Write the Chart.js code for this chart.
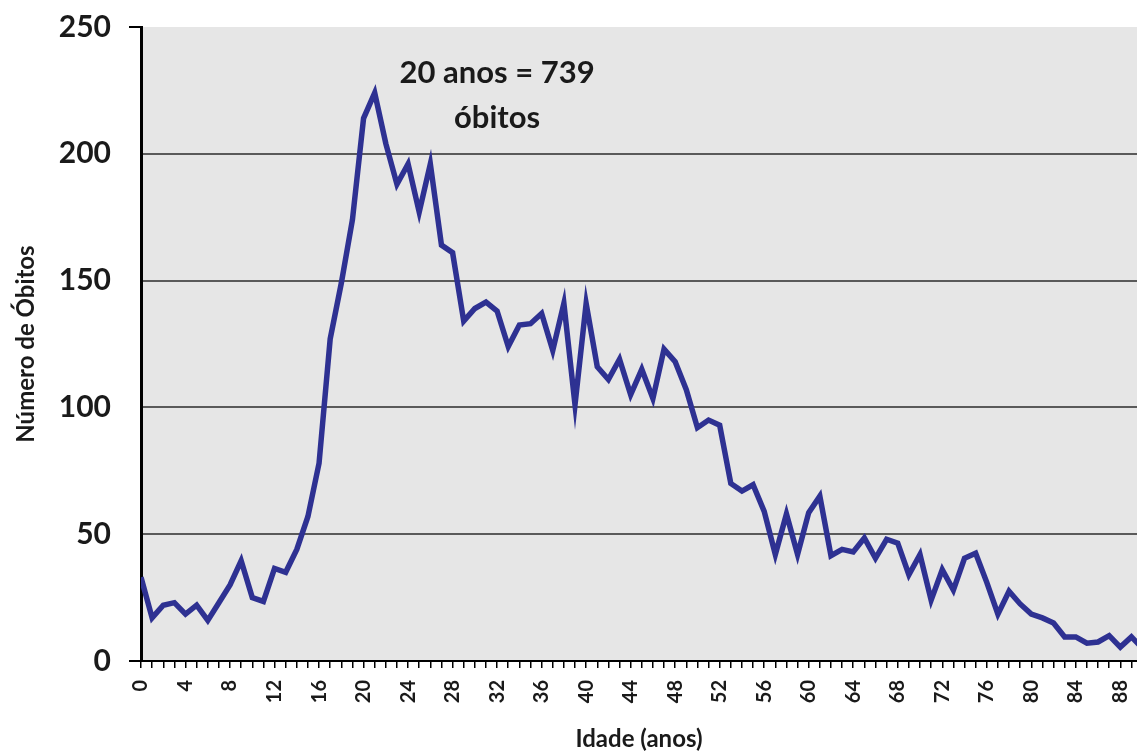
<!DOCTYPE html>
<html>
<head>
<meta charset="utf-8">
<script src="https://cdn.jsdelivr.net/npm/chart.js@4"></script>
<style>
  html, body { margin: 0; padding: 0; background: #fff; }
  #wrap { width: 1137px; height: 754px; }
</style>
</head>
<body>
<div id="wrap"><canvas id="myChart" width="1137" height="754"></canvas></div>
<script>
// ages 0..90 and deaths per age
let ages = [];
for (let a = 0; a <= 90; a++) ages.push(a);
let deaths = [
    33, 17, 22, 23, 18.5, 22, 16, 23, 30, 39.5,
    25, 23.5, 36.5, 35, 44, 57, 78, 127, 149, 174,
    214, 224, 204, 188, 196, 177, 196, 164, 161, 134,
    139, 141.5, 138, 124, 132.5, 133, 137, 122.5, 141, 101,
    141, 116, 111, 119, 105, 115, 103.5, 123, 118, 107,
    92, 95, 93, 70, 67, 69.5, 59, 42, 58, 42,
    58.5, 65, 41.5, 44, 43, 48.5, 40.5, 48, 46.5, 34,
    42, 24, 36, 28, 40.5, 42.5, 31, 18.5, 27.5, 22.5,
    18.5, 17, 15, 9.5, 9.5, 7, 7.5, 10, 5.5, 9.5,
    5
];
let yTicks = [0, 50, 100, 150, 200, 250];
let xLabelStep = 4; // labels every 4 years, a tick mark every year
let noteLines = ["20 anos = 739", "óbitos"];
let noteAt = { x: 32, y: [232, 214] };

let txt = "#1a1a1a";

// gray plot background + annotation text
let plotStuff = {
    id: "plotStuff",
    beforeDraw(chart) {
        let a = chart.chartArea, c = chart.ctx;
        c.save();
        c.fillStyle = "#e6e6e6";
        c.fillRect(a.left, a.top, a.right - a.left, a.bottom - a.top);
        c.restore();
    },
    afterDatasetsDraw(chart) {
        let c = chart.ctx;
        let sx = chart.scales.x, sy = chart.scales.y;
        c.save();
        c.fillStyle = txt;
        c.font = "bold 31px Lato";
        c.textAlign = "center";
        c.textBaseline = "middle";
        noteLines.forEach((t, i) => {
            c.fillText(t, sx.getPixelForValue(noteAt.x), sy.getPixelForValue(noteAt.y[i]));
        });
        c.restore();
    }
};

const data = {
    datasets: [
        {
            label: "Número de Óbitos",
            data: ages.map((a, i) => ({ x: a, y: deaths[i] })),
            borderColor: "#2e3192",
            backgroundColor: "#2e3192",
            borderWidth: 5.5,
            pointRadius: 0,
            tension: 0,
            borderJoinStyle: "miter",
        },
    ],
};

const config = {
    type: "line",
    data: data,
    plugins: [plotStuff],
    options: {
        responsive: false,
        animation: false,
        layout: { padding: { top: 27, right: 0, left: 0, bottom: 0 } },
        plugins: {
            legend: { display: false },
            tooltip: { enabled: false },
        },
        scales: {
            x: {
                type: "linear",
                min: 0,
                max: 89.5,
                afterBuildTicks: (s) => {
                    s.ticks = ages.filter((a) => a <= 89).map((v) => ({ value: v }));
                },
                afterFit: (s) => {
                    s.height = 93;
                    s.paddingLeft = 0;
                    s.paddingRight = 0;
                },
                ticks: {
                    autoSkip: false,
                    minRotation: 90,
                    maxRotation: 90,
                    padding: 12,
                    color: txt,
                    font: { family: "Lato", size: 20, weight: "bold" },
                    callback: (v) => (v % xLabelStep === 0 ? String(v) : ""),
                },
                grid: {
                    drawOnChartArea: false,
                    tickLength: 7,
                    color: "#000",
                    lineWidth: 1.5,
                },
                border: { color: "#000", width: 2 },
                title: {
                    display: true,
                    text: "Idade (anos)",
                    color: txt,
                    font: { family: "Lato", size: 24, weight: "bold" },
                    padding: { top: 0, bottom: 0 },
                },
            },
            y: {
                min: 0,
                max: 250,
                afterBuildTicks: (s) => {
                    s.ticks = yTicks.map((v) => ({ value: v }));
                },
                afterFit: (s) => {
                    s.width = 141;
                    s.paddingTop = 0;
                    s.paddingBottom = 0;
                },
                ticks: {
                    padding: 18,
                    color: txt,
                    font: { family: "Lato", size: 30, weight: "bold" },
                },
                grid: {
                    tickLength: 12,
                    lineWidth: 2,
                    color: (ctx) => (ctx.tick && (ctx.tick.value === 250 || ctx.tick.value === 0) ? "rgba(0,0,0,0)" : "#5a5a5a"),
                    tickColor: (ctx) => (ctx.tick && (ctx.tick.value === 250 || ctx.tick.value === 0) ? "#000" : "rgba(0,0,0,0)"),
                },
                border: { color: "#000", width: 3 },
                title: {
                    display: true,
                    text: "Número de Óbitos",
                    color: txt,
                    font: { family: "Lato", size: 24, weight: "bold" },
                    padding: { top: 12, bottom: 0 },
                },
            },
        },
    },
};

const myChart = new Chart(document.getElementById("myChart"), config);
</script>
</body>
</html>
